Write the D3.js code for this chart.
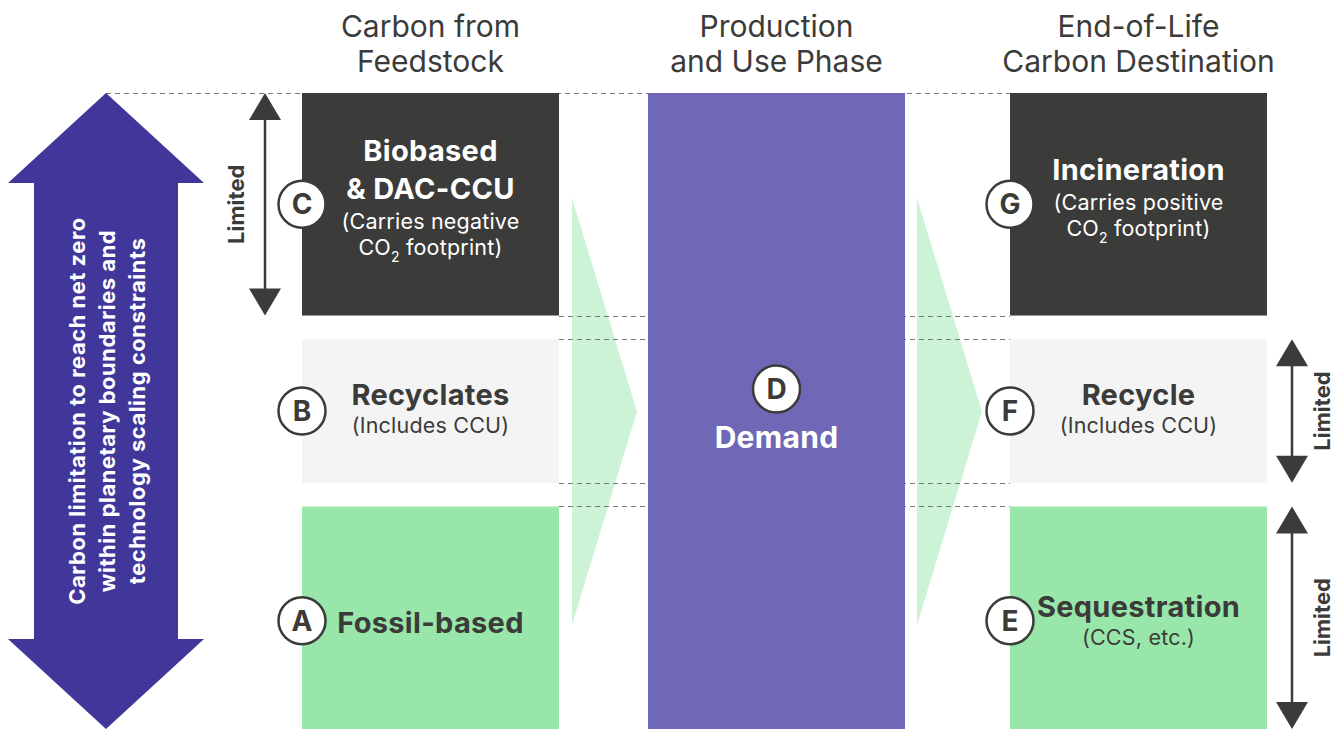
<!DOCTYPE html>
<html lang="en">
<head>
<meta charset="UTF-8">
<title>Carbon flow</title>
<script src="https://d3js.org/d3.v7.min.js"></script>
<style>
  body { margin: 0; background: #fff; }
  text { font-family: Inter, "Noto Sans", sans-serif; }
</style>
</head>
<body>
<div id="chart"></div>
<script>
// ---- data ----
const columns = ["feedstock", "use", "destination"];
const headers = [["Carbon from", "Feedstock"], ["Production", "and Use Phase"], ["End-of-Life", "Carbon Destination"]];
const rows = ["top", "middle", "bottom"];
const rowWeights = [31, 20, 31];          // relative height of each row
const feedstockBoxes = [
  { id: "C", row: "top", kind: "dark", title: ["Biobased", "& DAC-CCU"], note: ["(Carries negative", "CO|2| footprint)"] },
  { id: "B", row: "middle", kind: "grey", title: ["Recyclates"], note: ["(Includes CCU)"] },
  { id: "A", row: "bottom", kind: "green", title: ["Fossil-based"], note: [] }
];
const destinationBoxes = [
  { id: "G", row: "top", kind: "dark", title: ["Incineration"], note: ["(Carries positive", "CO|2| footprint)"] },
  { id: "F", row: "middle", kind: "grey", title: ["Recycle"], note: ["(Includes CCU)"] },
  { id: "E", row: "bottom", kind: "green", title: ["Sequestration"], note: ["(CCS, etc.)"] }
];
const demandBox = { id: "D", title: "Demand" };
const limitedRows = { feedstock: ["top"], destination: ["middle", "bottom"] };
const sideText = ["Carbon limitation to reach net zero", "within planetary boundaries and", "technology scaling constraints"];

// ---- layout ----
const W = 1344, H = 729;
const yTop = 93, yBottom = 729, gap = 3.3;
const dark = "#3b3b39";
const fills = { dark: "#3b3b39", grey: "#f4f4f4", green: "#98e6a9" };

const svg = d3.select("#chart").append("svg").attr("width", W).attr("height", H);

// y scale in "weight" units
const totalW = d3.sum(rowWeights) + gap * (rows.length - 1);
const y = d3.scaleLinear().domain([0, totalW]).range([yTop, yBottom]);
const rowStart = {}, rowEnd = {};
let acc = 0;
rows.forEach((r, i) => { rowStart[r] = acc; rowEnd[r] = acc + rowWeights[i]; acc += rowWeights[i] + gap; });

const colX = d3.scaleOrdinal().domain(columns).range([302, 648, 1010]);
const colW = 257;
const cx = c => colX(c) + colW / 2;

// headers
columns.forEach((c, i) => {
  const t = svg.append("text").attr("text-anchor", "middle").attr("fill", dark)
    .style("font-size", "30px");
  headers[i].forEach((line, j) => t.append("tspan").attr("x", cx(c)).attr("y", 37 + j * 35).text(line));
});

// flow chevrons
const chevTop = 198, chevBot = 625;
[[572, 637], [917, 982]].forEach(([x0, x1]) => {
  svg.append("path").attr("fill", "#cdf3d6")
    .attr("d", d3.line()([[x0, chevTop], [x1, (chevTop + chevBot) / 2], [x0, chevBot]]) + "Z");
});

// dashed guide lines
const dash = svg.append("g").attr("stroke", "#777").attr("stroke-width", 1).attr("stroke-dasharray", "5,4");
dash.append("line").attr("x1", 106).attr("x2", colX("destination")).attr("y1", y(0) + 0.5).attr("y2", y(0) + 0.5);
[rowEnd.top, rowStart.middle, rowEnd.middle, rowStart.bottom].forEach(v => {
  dash.append("line").attr("x1", colX("feedstock") + colW).attr("x2", colX("destination"))
    .attr("y1", Math.round(y(v)) + 0.5).attr("y2", Math.round(y(v)) + 0.5);
});

// demand box
svg.append("rect").attr("x", colX("use")).attr("y", y(0)).attr("width", colW)
  .attr("height", y(totalW) - y(0)).attr("fill", "#6f68b6");

function badge(x, yy, letter) {
  svg.append("circle").attr("cx", x).attr("cy", yy).attr("r", 23.5)
    .attr("fill", "#fff").attr("stroke", dark).attr("stroke-width", 2.5);
  svg.append("text").attr("x", x).attr("y", yy + 10).attr("text-anchor", "middle")
    .attr("fill", dark).style("font-size", "28px").style("font-weight", 700).text(letter);
}

function noteLine(t, x, yy, str) {
  const parts = str.split("|");
  t.append("tspan").attr("x", x).attr("y", yy).text(parts[0]);
  if (parts.length > 1) {
    t.append("tspan").attr("dy", 7).style("font-size", "14px").text(parts[1]);
    t.append("tspan").attr("dy", -7).text(parts[2]);
  }
}

// vertical placement of text (baseline offset from row middle) and badge
const textOffset = { top: null, middle: -6, bottom: -1 };

function drawColumn(col, boxes) {
  boxes.forEach(b => {
    const y0 = y(rowStart[b.row]), y1 = y(rowEnd[b.row]);
    svg.append("rect").attr("x", colX(col)).attr("y", y0).attr("width", colW)
      .attr("height", y1 - y0).attr("fill", fills[b.kind]);
    const color = b.kind === "dark" ? "#fff" : dark;
    const mid = (y0 + y1) / 2;
    let base;
    if (b.row === "top") base = mid - (b.title.length * 38 + b.note.length * 26) / 2 + 21;
    else if (b.note.length === 0) base = mid + 15;
    else base = mid + textOffset[b.row];
    const tt = svg.append("text").attr("text-anchor", "middle").attr("fill", color)
      .style("font-size", "29px").style("font-weight", 700).style("letter-spacing", "0.3px");
    b.title.forEach((s, j) => tt.append("tspan").attr("x", cx(col)).attr("y", base + j * 38).text(s));
    const nt = svg.append("text").attr("text-anchor", "middle").attr("fill", color)
      .style("font-size", "21.5px").style("letter-spacing", "0.2px");
    const noteGap = b.row === "top" ? 30 : 28;
    b.note.forEach((s, j) => noteLine(nt, cx(col), base + (b.title.length - 1) * 38 + noteGap + j * 26, s));
    const badgeY = b.row === "bottom" ? mid + 3 : mid;
    badge(colX(col), badgeY, b.id);
  });
}
drawColumn("feedstock", feedstockBoxes);
drawColumn("destination", destinationBoxes);

// demand label
const dMid = (y(0) + y(totalW)) / 2;
badge(cx("use"), dMid - 22, demandBox.id);
svg.append("text").attr("x", cx("use")).attr("y", dMid + 37).attr("text-anchor", "middle")
  .attr("fill", "#fff").style("font-size", "30px").style("font-weight", 700).style("letter-spacing", "0.3px")
  .text(demandBox.title);

// limited double arrows
function limitedArrow(x, r, labelX) {
  const y0 = y(rowStart[r]), y1 = y(rowEnd[r]);
  const g = svg.append("g").attr("fill", dark);
  g.append("line").attr("x1", x).attr("x2", x).attr("y1", y0 + 20).attr("y2", y1 - 20)
    .attr("stroke", dark).attr("stroke-width", 2.5);
  g.append("path").attr("d", d3.line()([[x, y0], [x + 16, y0 + 27], [x - 16, y0 + 27]]) + "Z");
  g.append("path").attr("d", d3.line()([[x, y1], [x + 16, y1 - 27], [x - 16, y1 - 27]]) + "Z");
  g.append("text").attr("transform", `translate(${labelX},${(y0 + y1) / 2}) rotate(-90)`)
    .attr("text-anchor", "middle").style("font-size", "22px").style("font-weight", 700).text("Limited");
}
limitedRows.feedstock.forEach(r => limitedArrow(265, r, 244));
limitedRows.destination.forEach(r => limitedArrow(1292, r, 1330));

// big side arrow
const ax = 106, headHalf = 98, shaftHalf = 72, headLen = 90;
const yt = y(0), yb = y(totalW);
svg.append("path").attr("fill", "#41379b").attr("d", d3.line()([
  [ax, yt], [ax + headHalf, yt + headLen], [ax + shaftHalf, yt + headLen],
  [ax + shaftHalf, yb - headLen], [ax + headHalf, yb - headLen], [ax, yb],
  [ax - headHalf, yb - headLen], [ax - shaftHalf, yb - headLen], [ax - shaftHalf, yt + headLen],
  [ax - headHalf, yt + headLen]
]) + "Z");
const st = svg.append("text").attr("transform", `translate(${ax},411) rotate(-90)`)
  .attr("text-anchor", "middle").attr("fill", "#fff").style("font-size", "22px")
  .style("font-weight", 700).style("letter-spacing", "0.5px");
sideText.forEach((s, i) => st.append("tspan").attr("x", 0).attr("y", -21 + i * 30).text(s));
</script>
</body>
</html>
